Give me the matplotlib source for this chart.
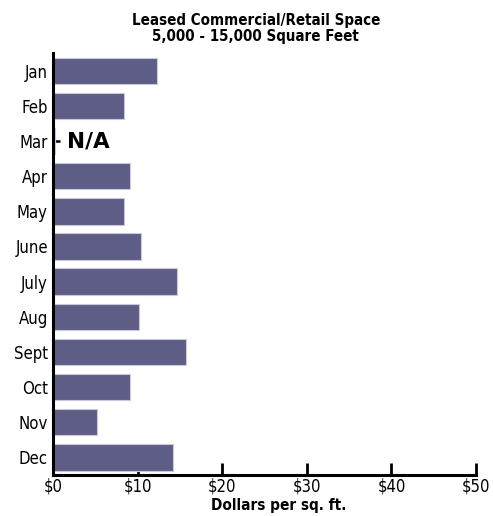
import matplotlib.pyplot as plt

months = ['Jan', 'Feb', 'Mar', 'Apr', 'May', 'June', 'July', 'Aug', 'Sept', 'Oct', 'Nov', 'Dec']
dollars = [12.3, 8.3, 0.15, 9.1, 8.4, 10.3, 14.6, 10.1, 15.7, 9.1, 5.1, 14.1]
x_ticks = [0, 10, 20, 30, 40, 50]
x_labels = ['$0', '$10', '$20', '$30', '$40', '$50']

plt.rcParams['font.family'] = ['DejaVu Sans']
plt.rcParams['font.stretch'] = 'condensed'

fig = plt.figure(figsize=(4.93, 5.16), dpi=100)
ax = fig.add_axes([0.1085, 0.0795, 0.857, 0.8175])

ax.barh(range(len(months)), dollars, height=0.75, color='#5e5d85',
        edgecolor='#c9c8dc', linewidth=0.8, zorder=3)
ax.text(1.6, 2, 'N/A', fontsize=15.5, fontweight='heavy', fontstretch='normal',
        va='center', ha='left')

ax.set_ylim(11.5, -0.5)
ax.set_xlim(0, 50)
ax.set_yticks(range(len(months)))
ax.set_yticklabels(months)
ax.set_xticks(x_ticks)
ax.set_xticklabels(x_labels)

ax.tick_params(axis='y', direction='in', length=5, width=1.8, labelsize=12, pad=4)
ax.tick_params(axis='x', direction='in', length=9, width=2, labelsize=12, pad=2)

for side in ['top', 'right']:
    ax.spines[side].set_visible(False)
for side in ['left', 'bottom']:
    ax.spines[side].set_linewidth(2.2)
    ax.spines[side].set_zorder(4)

ax.set_xlabel('Dollars per sq. ft.', fontsize=11, fontweight='bold', labelpad=2)
ax.xaxis.set_label_coords(0.534, -0.055)
fig.text(0.519, 0.945, 'Leased Commercial/Retail Space\n5,000 - 15,000 Square Feet',
         ha='center', va='center', fontsize=10.8, fontweight='bold', linespacing=1.1)

fig.savefig('out.png', dpi=100)
